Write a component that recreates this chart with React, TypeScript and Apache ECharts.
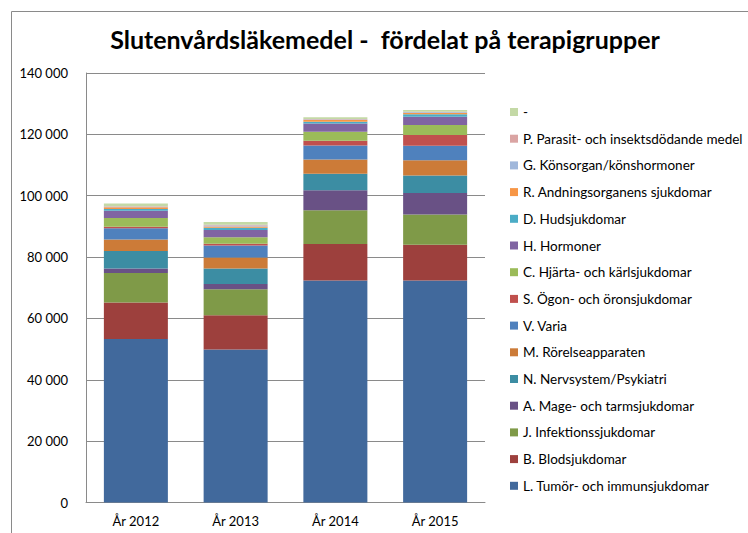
import React, { useEffect, useRef } from "react";
import * as echarts from "echarts";

const categories = ["År 2012", "År 2013", "År 2014", "År 2015"];

const seriesNames = [
  "L. Tumör- och immunsjukdomar",
  "B. Blodsjukdomar",
  "J. Infektionssjukdomar",
  "A. Mage- och tarmsjukdomar",
  "N. Nervsystem/Psykiatri",
  "M. Rörelseapparaten",
  "V. Varia",
  "S. Ögon- och öronsjukdomar",
  "C. Hjärta- och kärlsjukdomar",
  "H. Hormoner",
  "D. Hudsjukdomar",
  "R. Andningsorganens sjukdomar",
  "G. Könsorgan/könshormoner",
  "P. Parasit- och insektsdödande medel",
  "-",
];

const valuesL = [53300, 49900, 72400, 72400];
const valuesB = [11900, 11100, 11900, 11600];
const valuesJ = [9600, 8500, 11000, 9900];
const valuesA = [1500, 1700, 6500, 7000];
const valuesN = [5700, 5100, 5400, 5700];
const valuesM = [3700, 3600, 4600, 5000];
const valuesV = [3700, 3900, 4600, 4700];
const valuesS = [450, 550, 1500, 3500];
const valuesC = [2850, 2150, 2950, 3250];
const valuesH = [2400, 2300, 2700, 2700];
const valuesD = [550, 750, 550, 800];
const valuesR = [550, 450, 550, 500];
const valuesG = [200, 300, 200, 200];
const valuesP = [200, 250, 150, 150];
const valuesDash = [900, 850, 550, 500];

const seriesValues = [
  valuesL, valuesB, valuesJ, valuesA, valuesN, valuesM, valuesV, valuesS,
  valuesC, valuesH, valuesD, valuesR, valuesG, valuesP, valuesDash,
];

const colors = [
  "#41699C", "#9D403D", "#7F9A48", "#695185", "#3C8DA3", "#CC7B38",
  "#4F81BD", "#C0504D", "#9BBB59", "#8064A2", "#4BACC6", "#F79646",
  "#A0B7DB", "#DAA4A3", "#C4D9A6",
];

const yTicks = { min: 0, max: 140000, interval: 20000 };

const FONT = "Lato, 'Noto Sans', sans-serif";

export default function App() {
  const ref = useRef<HTMLDivElement>(null);
  useEffect(() => {
    if (!ref.current) return;
    const chart = echarts.init(ref.current, undefined, { renderer: "svg" });
    chart.setOption({
      animation: false,
      backgroundColor: "#ffffff",
      textStyle: { fontFamily: FONT },
      title: {
        text: "Slutenvårdsläkemedel -  fördelat på terapigrupper",
        left: 380,
        textAlign: "center",
        top: 21,
        textStyle: { fontSize: 25, fontWeight: "bold", color: "#000", fontFamily: FONT },
      },
      graphic: [
        {
          type: "rect",
          shape: { x: 11.5, y: 11.5, width: 800, height: 600 },
          style: { fill: "none", stroke: "#8a8a8a", lineWidth: 1 },
          silent: true,
        },
      ],
      grid: { left: 86, right: 263, top: 73, bottom: 30.5, containLabel: false },
      legend: {
        orient: "vertical",
        left: 505,
        top: 100,
        icon: "rect",
        itemWidth: 8,
        itemHeight: 8,
        itemGap: 12.7,
        data: seriesNames.slice().reverse(),
        textStyle: { fontSize: 13.5, color: "#000", lineHeight: 14, fontFamily: FONT },
      },
      xAxis: {
        type: "category",
        data: categories,
        axisTick: { show: false },
        axisLine: { lineStyle: { color: "#8a8a8a" } },
        axisLabel: { fontSize: 13, color: "#000", margin: 12, fontFamily: FONT },
      },
      yAxis: {
        type: "value",
        min: yTicks.min,
        max: yTicks.max,
        interval: yTicks.interval,
        axisLine: { show: true, lineStyle: { color: "#8a8a8a" } },
        axisTick: { show: false },
        splitLine: { lineStyle: { color: "#8a8a8a" } },
        axisLabel: {
          fontSize: 13,
          color: "#000",
          margin: 18,
          fontFamily: FONT,
          formatter: (v: number) => String(v).replace(/\B(?=(\d{3})+(?!\d))/g, " "),
        },
      },
      series: seriesNames.map((name, i) => ({
        name,
        type: "bar",
        stack: "total",
        barWidth: 64,
        data: seriesValues[i],
        itemStyle: { color: colors[i] },
      })),
    });
    return () => chart.dispose();
  }, []);
  return (
    <div
      ref={ref}
      style={{ position: "absolute", left: 0, top: 0, width: 748, height: 533 }}
    />
  );
}
